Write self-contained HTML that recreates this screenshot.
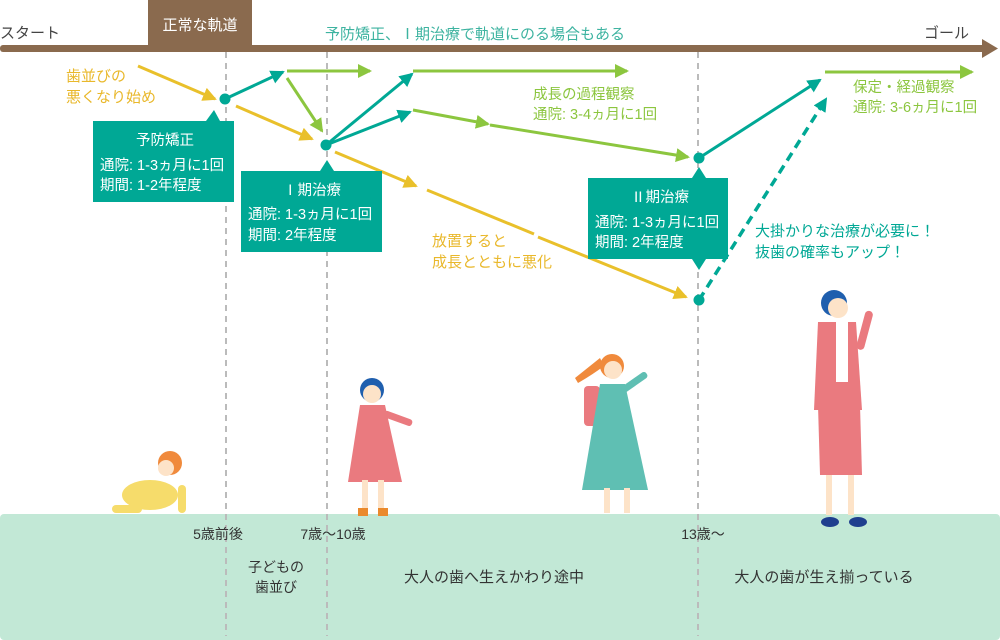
<!DOCTYPE html>
<html><head><meta charset="utf-8"><style>
body{margin:0;width:1000px;height:640px;overflow:hidden;background:#fff}
svg{display:block}
text{font-family:"Liberation Sans","Noto Sans CJK JP",sans-serif}
</style></head><body>
<svg width="1000" height="640" viewBox="0 0 1000 640">
<defs>
<marker id="mg" markerWidth="14" markerHeight="14" refX="12" refY="7" orient="auto" markerUnits="userSpaceOnUse"><path d="M0,0 L14,7 L0,14 z" fill="#8cc63f"/></marker>
<marker id="my" markerWidth="14" markerHeight="14" refX="12" refY="7" orient="auto" markerUnits="userSpaceOnUse"><path d="M0,0 L14,7 L0,14 z" fill="#e9c02b"/></marker>
<marker id="mt2" markerWidth="14" markerHeight="14" refX="12" refY="7" orient="auto" markerUnits="userSpaceOnUse"><path d="M0,0 L14,7 L0,14 z" fill="#00a895"/></marker>
</defs>
<rect x="0" y="514" width="1000" height="126" rx="4" fill="#c2e8d6"/>
<g stroke="#bbb" stroke-width="2" stroke-dasharray="6,5">
<line x1="226" y1="52" x2="226" y2="636"/><line x1="327" y1="52" x2="327" y2="636"/><line x1="698" y1="52" x2="698" y2="636"/>
</g>
<rect x="148" y="0" width="104" height="46" fill="#8a6a4e"/>
<text x="200" y="30" font-size="15" fill="#fff" text-anchor="middle">正常な軌道</text>
<rect x="0" y="45" width="985" height="7" rx="3" fill="#8a6a4e"/>
<path d="M982,39 L998,48.5 L982,58 z" fill="#8a6a4e"/>
<text x="0" y="38" font-size="15" fill="#444">スタート</text>
<text x="924" y="38" font-size="15" fill="#444">ゴール</text>
<text x="325" y="39" font-size="15" fill="#3db3a0">予防矯正、Ⅰ期治療で軌道にのる場合もある</text>
<g stroke-width="3" fill="none">
<line x1="138" y1="66" x2="215" y2="99" stroke="#e9c02b" marker-end="url(#my)"/>
<line x1="225" y1="99" x2="283" y2="72" stroke="#00a895" marker-end="url(#mt2)"/>
<line x1="287" y1="71" x2="370" y2="71" stroke="#8cc63f" marker-end="url(#mg)"/>
<line x1="287" y1="78" x2="322" y2="131" stroke="#8cc63f" marker-end="url(#mg)"/>
<line x1="236" y1="106" x2="312" y2="139" stroke="#e9c02b" marker-end="url(#my)"/>
<line x1="326" y1="145" x2="412" y2="74" stroke="#00a895" marker-end="url(#mt2)"/>
<line x1="326" y1="145" x2="410" y2="112" stroke="#00a895" marker-end="url(#mt2)"/>
<line x1="413" y1="71" x2="627" y2="71" stroke="#8cc63f" marker-end="url(#mg)"/>
<line x1="413" y1="110" x2="488" y2="124" stroke="#8cc63f" marker-end="url(#mg)"/>
<line x1="490" y1="125" x2="688" y2="157" stroke="#8cc63f" marker-end="url(#mg)"/>
<line x1="335" y1="152" x2="416" y2="186" stroke="#e9c02b" marker-end="url(#my)"/>
<line x1="427" y1="190" x2="534" y2="234" stroke="#e9c02b"/>
<line x1="538" y1="237" x2="686" y2="297" stroke="#e9c02b" marker-end="url(#my)"/>
<line x1="699" y1="158" x2="820" y2="80" stroke="#00a895" marker-end="url(#mt2)"/>
<line x1="825" y1="72" x2="972" y2="72" stroke="#8cc63f" marker-end="url(#mg)"/>
<line x1="699" y1="300" x2="826" y2="99" stroke="#00a895" stroke-width="3.5" stroke-dasharray="9,6" marker-end="url(#mt2)"/>
</g>
<g fill="#00a895"><circle cx="225" cy="99" r="5.5"/><circle cx="326" cy="145" r="5.5"/><circle cx="699" cy="158" r="5.5"/><circle cx="699" cy="300" r="5.5"/></g>
<g font-size="15" fill="#e9b82b"><text x="66" y="81">歯並びの</text><text x="66" y="102">悪くなり始め</text>
<text x="432" y="246">放置すると</text><text x="432" y="267">成長とともに悪化</text></g>
<g font-size="14.5" fill="#8cc63f"><text x="533" y="99">成長の過程観察</text><text x="533" y="119">通院: 3-4ヵ月に1回</text>
<text x="853" y="92">保定・経過観察</text><text x="853" y="112">通院: 3-6ヵ月に1回</text></g>
<g font-size="15" fill="#00a895"><text x="755" y="236">大掛かりな治療が必要に！</text><text x="755" y="257">抜歯の確率もアップ！</text></g>
<g fill="#00a895">
<rect x="93" y="121" width="141" height="81"/><path d="M206,121 L214,110 L220,121z"/>
<rect x="241" y="171" width="141" height="81"/><path d="M320,171 L327,160 L334,171z"/>
<rect x="588" y="178" width="140" height="81"/><path d="M692,178 L699,167 L706,178z"/><path d="M692,259 L699,270 L706,259z"/>
</g>
<g font-size="14.5" fill="#fff">
<text x="165" y="145" text-anchor="middle">予防矯正</text><text x="100" y="170">通院: 1-3ヵ月に1回</text><text x="100" y="190">期間: 1-2年程度</text>
<text x="312" y="195" text-anchor="middle">Ⅰ期治療</text><text x="248" y="219">通院: 1-3ヵ月に1回</text><text x="248" y="240">期間: 2年程度</text>
<text x="660" y="202" text-anchor="middle">Ⅱ期治療</text><text x="595" y="227">通院: 1-3ヵ月に1回</text><text x="595" y="247">期間: 2年程度</text>
</g>
<g font-size="14" fill="#333" text-anchor="middle">
<text x="218" y="539">5歳前後</text><text x="333" y="539">7歳〜10歳</text><text x="703" y="539">13歳〜</text>
<text x="276" y="572">子どもの</text><text x="276" y="592">歯並び</text>
</g>
<g font-size="15" fill="#333" text-anchor="middle">
<text x="494" y="582">大人の歯へ生えかわり途中</text><text x="824" y="582">大人の歯が生え揃っている</text>
</g>
<g>
<circle cx="170" cy="463" r="12" fill="#f08a3c"/><circle cx="166" cy="468" r="8" fill="#fde3c8"/>
<ellipse cx="150" cy="495" rx="28" ry="15" fill="#f6dc6b"/><rect x="112" y="505" width="30" height="8" rx="4" fill="#f6dc6b"/>
<rect x="178" y="485" width="8" height="28" rx="4" fill="#f6dc6b"/>
<circle cx="372" cy="390" r="12" fill="#1f5fae"/><circle cx="372" cy="394" r="9" fill="#fde3c8"/>
<path d="M360,405 L385,405 L402,482 L348,482z" fill="#ea7a7f"/><rect x="385" y="410" width="30" height="7" rx="3" fill="#ea7a7f" transform="rotate(20 385 410)"/>
<rect x="362" y="480" width="6" height="32" fill="#fde3c8"/><rect x="378" y="480" width="6" height="32" fill="#fde3c8"/>
<rect x="358" y="508" width="10" height="8" fill="#ea8a2d"/><rect x="378" y="508" width="10" height="8" fill="#ea8a2d"/>
<circle cx="612" cy="366" r="12" fill="#f08a3c"/><path d="M600,358 Q585,370 575,378 L578,383 Q592,375 604,366z" fill="#f08a3c"/>
<circle cx="613" cy="370" r="9" fill="#fde3c8"/>
<rect x="584" y="386" width="16" height="40" rx="4" fill="#ea7a7f"/>
<path d="M600,384 L625,384 L648,490 L582,490z" fill="#5fbfb3"/>
<rect x="620" y="388" width="30" height="7" rx="3" fill="#5fbfb3" transform="rotate(-35 620 388)"/>
<rect x="604" y="488" width="6" height="25" fill="#fde3c8"/><rect x="624" y="488" width="6" height="25" fill="#fde3c8"/>
<circle cx="834" cy="303" r="13" fill="#1f5fae"/><circle cx="838" cy="308" r="10" fill="#fde3c8"/>
<path d="M818,322 L856,322 L862,410 L814,410z" fill="#ea7a7f"/>
<rect x="836" y="322" width="12" height="60" fill="#fff"/>
<path d="M818,405 L860,405 L862,475 L820,475z" fill="#ea7a7f"/>
<rect x="866" y="310" width="8" height="40" rx="4" fill="#ea7a7f" transform="rotate(15 866 310)"/>
<rect x="826" y="475" width="6" height="40" fill="#fde3c8"/><rect x="848" y="475" width="6" height="40" fill="#fde3c8"/>
<ellipse cx="830" cy="522" rx="9" ry="5" fill="#1f3f8e"/><ellipse cx="858" cy="522" rx="9" ry="5" fill="#1f3f8e"/>
</g>
</svg>
</body></html>
